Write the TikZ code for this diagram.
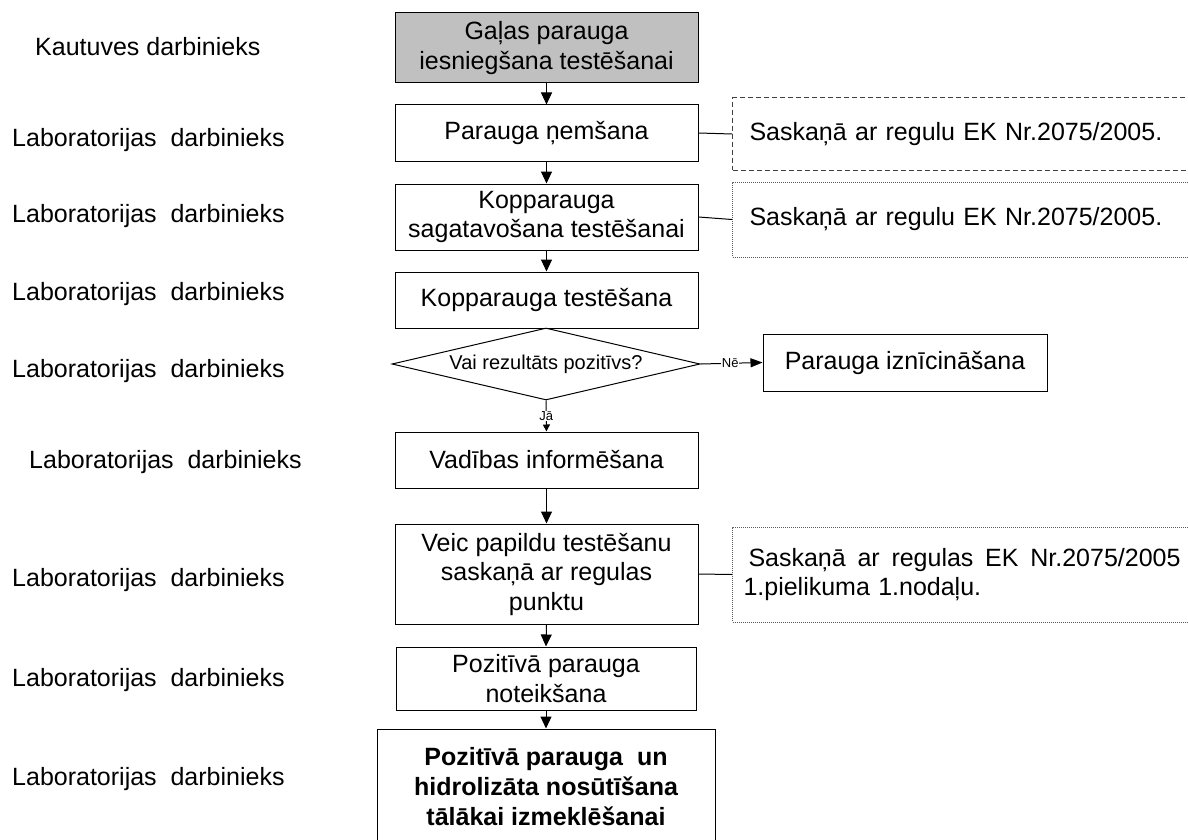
\documentclass[tikz,border=0pt]{standalone}
\usepackage{fontspec}
\setmainfont{Liberation Sans}
\usetikzlibrary{shapes.geometric,arrows.meta}
\definecolor{boxgray}{RGB}{192,192,192}
\begin{document}
\begin{tikzpicture}[x=1pt,y=-1pt,
  box/.style={draw,line width=1pt,align=center,inner sep=0pt,
    font=\fontsize{25}{29.5}\selectfont,minimum width=303pt},
  arr/.style={line width=1pt,-{Triangle[length=12pt,width=11pt]}},
  smallarr/.style={line width=1pt,-{Triangle[length=7pt,width=7pt]}},
  midarr/.style={line width=1pt,-{Triangle[length=12pt,width=9pt]}},
  role/.style={anchor=west,inner sep=0pt,font=\fontsize{25}{29.5}\selectfont},
  note/.style={anchor=west,line width=1pt,align=left,inner ysep=0pt,
    font=\fontsize{25}{29}\selectfont},
  dashnote/.style={note,draw=black!75,dash pattern=on 5pt off 3pt},
  dotnote/.style={note,draw=black!65,dash pattern=on 1pt off 1pt},
  edgelbl/.style={fill=white,inner sep=0.6pt,font=\fontsize{13}{13}\selectfont}]
\useasboundingbox (0,0) rectangle (1188,840);
\clip (0,0) rectangle (1188,840);

% role labels
\node[role] (r0) at (35,47) {Kautuves darbinieks};
\node[role] (r1) at (12,140) {Laboratorijas\ \ darbinieks};
\node[role] (r2) at (12,216) {Laboratorijas\ \ darbinieks};
\node[role] (r3) at (12,294) {Laboratorijas\ \ darbinieks};
\node[role] (r4) at (12,371) {Laboratorijas\ \ darbinieks};
\node[role] (r5) at (29,462) {Laboratorijas\ \ darbinieks};
\node[role] (r6) at (12,580) {Laboratorijas\ \ darbinieks};
\node[role] (r7) at (12,680) {Laboratorijas\ \ darbinieks};
\node[role] (r8) at (12,779) {Laboratorijas\ \ darbinieks};

% process boxes
\node[box,fill=boxgray,minimum height=70pt] (b1) at (546.5,48) {Gaļas parauga\\iesniegšana testēšanai};
\node[box,minimum height=56pt] (b2) at (546.5,133) {Parauga ņemšana};
\node[box,minimum height=66pt] (b3) at (546.5,217) {Kopparauga\\sagatavošana testēšanai};
\node[box,minimum height=56pt] (b4) at (546.5,300) {Kopparauga testēšana};
\node[draw,line width=1pt,shape=diamond,aspect=4.3,inner sep=0pt,
      minimum width=308pt,minimum height=72pt,
      font=\fontsize{20}{24}\selectfont] (d) at (546,364) {Vai rezultāts pozitīvs?};
\node[box,minimum width=284pt,minimum height=57pt] (n) at (905,362.5) {Parauga iznīcināšana};
\node[box,minimum height=56pt] (b5) at (546.5,460) {Vadības informēšana};
\node[box,minimum height=100pt] (b6) at (546.5,574) {Veic papildu testēšanu\\saskaņā ar regulas\\punktu};
\node[box,minimum width=300pt,minimum height=63pt] (b7) at (546,678.5) {Pozitīvā parauga\\noteikšana};
\node[box,minimum width=338pt,minimum height=116pt,
      font=\fontsize{25}{30}\selectfont\bfseries] (b8) at (546,787)
      {Pozitīvā parauga\ \ un\\hidrolizāta nosūtīšana\\tālākai izmeklēšanai};

% annotation boxes (right side runs off the page)
\node[dashnote,inner xsep=17pt,text width=436pt,minimum height=72pt] (a1) at (732,134)
      {Saskaņā ar regulu EK Nr.2075/2005.};
\node[dotnote,inner xsep=17pt,text width=436pt,minimum height=75pt] (a2) at (732,219.5)
      {Saskaņā ar regulu EK Nr.2075/2005.};
\node[dotnote,inner xsep=11pt,text width=448pt,minimum height=95pt] (a3) at (732,574.5)
      {\makebox[437pt][l]{\hspace{5pt}Saskaņā\hfill ar\hfill regulas\hfill EK\hfill Nr.2075/2005}\\1.pielikuma 1.nodaļu.};

% connectors
\draw[arr] (b1.south) -- (b2.north);
\draw[arr] (b2.south) -- (b3.north);
\draw[arr] (b3.south) -- (b4.north);
\draw[midarr] (d.east) -- node[edgelbl,pos=0.48] {Nē} (n.west);
\draw[smallarr] (d.south) -- node[edgelbl,pos=0.5] {Jā} (b5.north);
\draw[arr] (b5.south) -- (b6.north);
\draw[arr] (b6.south) -- (b7.north);
\draw[arr] (b7.south) -- (b8.north);

\draw[line width=1pt] (b2.east) -- (a1.west);
\draw[line width=1pt] (b3.east) -- (a2.west);
\draw[line width=1pt] (b6.east) -- (a3.west);
\end{tikzpicture}
\end{document}
